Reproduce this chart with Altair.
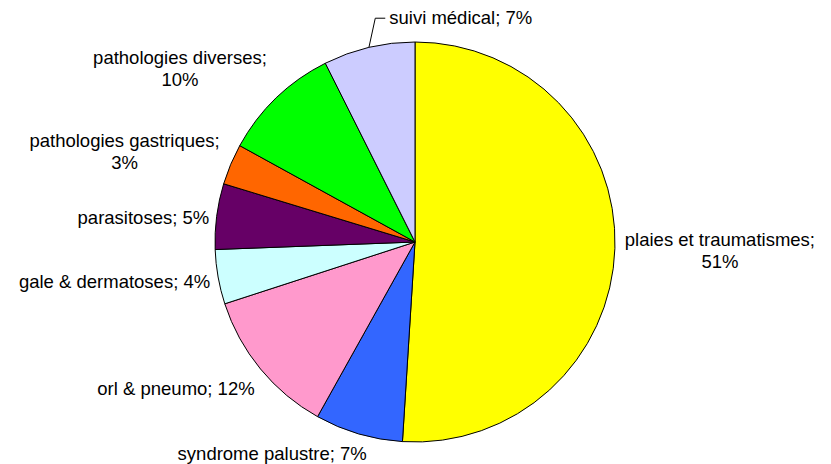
import math
import altair as alt
import pandas as pd

# ---- data ----
categories = [
    "plaies et traumatismes",
    "syndrome palustre",
    "orl & pneumo",
    "gale & dermatoses",
    "parasitoses",
    "pathologies gastriques",
    "pathologies diverses",
    "suivi médical",
]
values = [51.0, 7.1, 11.9, 4.4, 5.3, 3.3, 9.6, 7.4]
colors = ["#FFFF00", "#3366FF", "#FF99CC", "#CCFFFF", "#660066", "#FF6600", "#00FF00", "#CCCCFF"]
wrapped = ["plaies et traumatismes", "pathologies gastriques", "pathologies diverses"]

total = sum(values)
mids = []
cum = 0.0
for v in values:
    mids.append(cum + v / 2)
    cum += v
pcts = [round(v / total * 100) for v in values]
labels = [
    (f"{c};\n{p}%" if c in wrapped else f"{c}; {p}%")
    for c, p in zip(categories, pcts)
]

df = pd.DataFrame({
    "cat": categories,
    "value": values,
    "idx": list(range(len(categories))),
    "mid": mids,
    "label": labels,
})

# ---- layout ----
W, H = 815, 456
CX, CY = 407, 234
R = 200
LR = 205
FONT = "Liberation Sans"
FS = 18.5
LH = 22

label_layout = {
    "plaies et traumatismes": ("center", 100, 3),
    "syndrome palustre": ("center", -85, 15),
    "orl & pneumo": ("right", -2, 17),
    "gale & dermatoses": ("right", -3, 4),
    "parasitoses": ("right", -2.5, 2.6),
    "pathologies gastriques": ("center", -101.5, -10),
    "pathologies diverses": ("center", -92.8, -25.6),
    "suivi médical": ("left", 21.5, -24.3),
}

theta_scale = alt.Scale(domain=[0, total], range=[0, 2 * math.pi])

base = alt.Chart(df)
pie = base.mark_arc(outerRadius=R, stroke="black", strokeWidth=1).encode(
    theta=alt.Theta("value:Q", stack=True, scale=theta_scale),
    order=alt.Order("idx:Q"),
    color=alt.Color("cat:N", scale=alt.Scale(domain=categories, range=colors), legend=None),
    x=alt.value(CX),
    y=alt.value(CY),
)

texts = []
for c in categories:
    align, dx, dy = label_layout[c]
    if c in wrapped:
        dy -= LH / 2  # centre the two-line block on its anchor
    t = base.transform_filter(alt.datum.cat == c).mark_text(
        radius=LR, align=align, baseline="middle", dx=dx, dy=dy,
        font=FONT, fontSize=FS, lineBreak="\n", lineHeight=LH, color="black",
    ).encode(
        theta=alt.Theta("mid:Q", stack=None, scale=theta_scale),
        text="label:N",
        x=alt.value(CX),
        y=alt.value(CY),
    )
    texts.append(t)

# leader line for "suivi médical"
li = categories.index("suivi médical")
ang = mids[li] / total * 2 * math.pi
_, ldx, ldy = label_layout["suivi médical"]
sx, sy = CX + R * math.sin(ang), CY - R * math.cos(ang)
ax, ay = CX + LR * math.sin(ang) + ldx, CY - LR * math.cos(ang) + ldy
leader = pd.DataFrame({"x": [sx, ax - 14, ax - 4], "y": [sy, ay, ay], "o": [0, 1, 2]})
line = alt.Chart(leader).mark_line(color="black", strokeWidth=1).encode(
    x=alt.X("x:Q", scale=None, axis=None),
    y=alt.Y("y:Q", scale=None, axis=None),
    order="o:Q",
)

chart = alt.layer(pie, line, *texts).properties(
    width=W, height=H, padding=0,
    autosize=alt.AutoSizeParams(type="none"),
).configure_view(stroke=None)

chart.save("out.html", embed_options={"renderer": "svg", "actions": False})
